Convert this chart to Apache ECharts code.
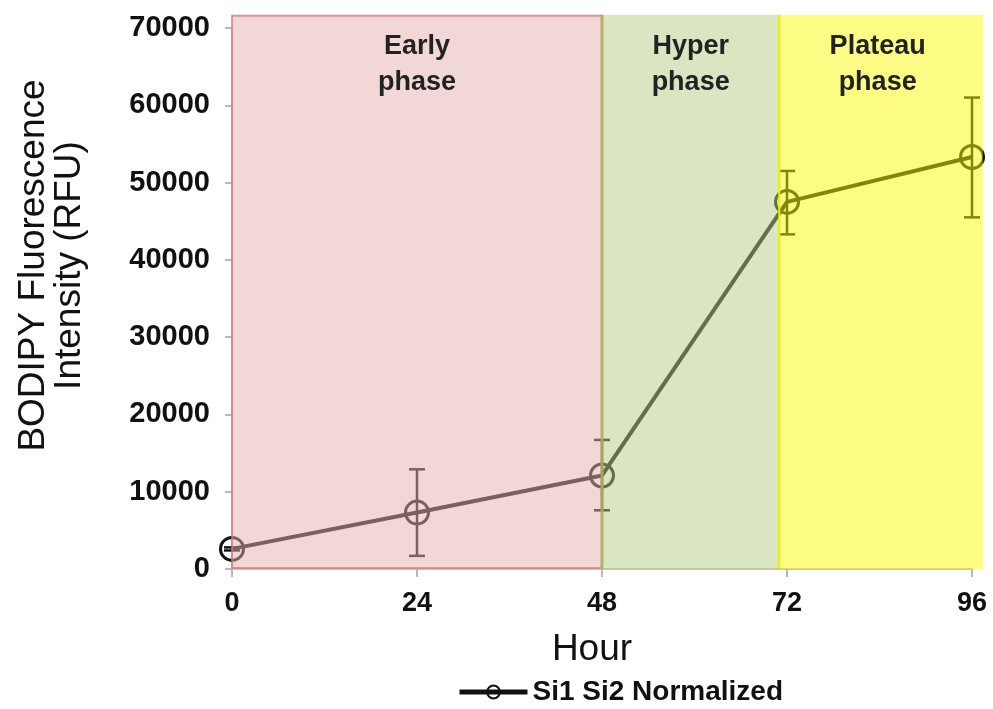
<!DOCTYPE html>
<html>
<head>
<meta charset="utf-8">
<script src="https://cdn.jsdelivr.net/npm/echarts@6/dist/echarts.min.js"></script>
<style>
  html, body { margin: 0; padding: 0; background: #fff; }
  #chart { width: 993px; height: 709px; }
</style>
</head>
<body>
<div id="chart"></div>
<script>
// Sampling times and mean BODIPY fluorescence with error-bar limits
const hours = [0, 24, 48, 72, 96];
const intensity = [2600, 7300, 12100, 47500, 53300];
const errLow = [2400, 1700, 7600, 43300, 45500];
const errHigh = [2800, 12900, 16700, 51500, 61000];

// Growth phases drawn as shaded bands (hour ranges)
const phaseNames = ['Early\nphase', 'Hyper\nphase', 'Plateau\nphase'];
const phaseStart = [0, 48, 71];
const phaseEnd = [48, 71, 97.4];
const phaseTop = 71700;
const phaseFill = ['rgba(229,176,176,0.5)', 'rgba(182,205,134,0.5)', 'rgba(250,249,10,0.5)'];
const phaseEdge = ['rgba(214,120,120,0.7)', 'rgba(175,170,100,0.9)', 'rgba(238,238,0,1)'];

const seriesName = 'Si1 Si2 Normalized';

const chart = echarts.init(document.getElementById('chart'), null, { renderer: 'canvas' });

const lineData = hours.map((h, i) => [h, intensity[i]]);
const errData = hours.map((h, i) => [h, errLow[i], errHigh[i]]);
const phaseData = phaseNames.map((n, i) => [phaseStart[i], phaseEnd[i], phaseTop, i]);

chart.setOption({
  animation: false,
  backgroundColor: '#fff',
  grid: { left: 232, right: 21, top: 28, bottom: 140 },
  legend: {
    data: [seriesName],
    left: 452,
    top: 673,
    itemWidth: 68,
    itemHeight: 16,
    itemGap: 4,
    lineStyle: { width: 5, color: '#111' },
    itemStyle: { color: 'rgba(0,0,0,0)', borderColor: '#111', borderWidth: 2 },
    textStyle: { fontFamily: 'Liberation Sans, Arial', fontSize: 28, fontWeight: 'bold', color: '#111' }
  },
  xAxis: {
    type: 'value',
    min: 0,
    max: 96,
    interval: 24,
    name: 'Hour',
    nameLocation: 'middle',
    nameGap: 62,
    nameTextStyle: { fontFamily: 'Liberation Sans, Arial', fontSize: 37, color: '#111', padding: [0, 20, 0, 0] },
    axisLine: { show: true, lineStyle: { color: '#c4c4c4', width: 2 } },
    axisTick: { show: true, length: 8, lineStyle: { color: '#b8b8b8', width: 2 } },
    axisLabel: { fontFamily: 'Liberation Sans, Arial', fontSize: 27, fontWeight: 'bold', color: '#111', margin: 21 },
    splitLine: { show: false }
  },
  yAxis: {
    type: 'value',
    min: 0,
    max: 70000,
    interval: 10000,
    name: 'BODIPY Fluorescence\nIntensity (RFU)',
    nameLocation: 'middle',
    nameGap: 144,
    nameTextStyle: { fontFamily: 'Liberation Sans, Arial', fontSize: 37, lineHeight: 36, color: '#111', padding: [0, 0, 0, 66] },
    axisLine: { show: true, lineStyle: { color: '#c4c4c4', width: 2 } },
    axisTick: { show: true, length: 7, lineStyle: { color: '#b8b8b8', width: 2 } },
    axisLabel: {
      fontFamily: 'Liberation Sans, Arial', fontSize: 29, fontWeight: 'bold', color: '#111', margin: 22,
      formatter: function (v) { return String(v); }
    },
    splitLine: { show: false }
  },
  series: [
    {
      name: seriesName,
      type: 'line',
      z: 2,
      data: lineData,
      lineStyle: { color: '#111', width: 4 },
      itemStyle: { color: 'rgba(0,0,0,0)', borderColor: '#111', borderWidth: 3 },
      symbol: 'circle',
      symbolSize: 23,
      showSymbol: true,
      clip: false
    },
    {
      name: 'errors',
      type: 'custom',
      z: 2,
      clip: false,
      data: errData,
      renderItem: function (params, api) {
        const x = api.value(0);
        const lo = api.coord([x, api.value(1)]);
        const hi = api.coord([x, api.value(2)]);
        const half = 8;
        const style = { stroke: '#111', lineWidth: 2.5 };
        return {
          type: 'group',
          children: [
            { type: 'line', shape: { x1: lo[0], y1: lo[1], x2: hi[0], y2: hi[1] }, style: style },
            { type: 'line', shape: { x1: lo[0] - half, y1: lo[1], x2: lo[0] + half, y2: lo[1] }, style: style },
            { type: 'line', shape: { x1: hi[0] - half, y1: hi[1], x2: hi[0] + half, y2: hi[1] }, style: style }
          ]
        };
      }
    },
    {
      name: 'phases',
      type: 'custom',
      z: 5,
      clip: false,
      silent: true,
      data: phaseData,
      renderItem: function (params, api) {
        const i = api.value(3);
        const p0 = api.coord([api.value(0), api.value(2)]);
        const p1 = api.coord([api.value(1), 0]);
        const children = [
          {
            type: 'rect',
            shape: { x: p0[0], y: p0[1], width: p1[0] - p0[0], height: p1[1] - p0[1] },
            style: { fill: phaseFill[i] }
          },
          {
            type: 'line',
            shape: { x1: p0[0], y1: p0[1], x2: p0[0], y2: p1[1] },
            style: { stroke: phaseEdge[i], lineWidth: i === 1 ? 3 : 2 }
          }
        ];
        if (i === 0) {
          children.push(
            { type: 'line', shape: { x1: p0[0], y1: p0[1] + 1, x2: p1[0], y2: p0[1] + 1 }, style: { stroke: phaseEdge[0], lineWidth: 2 } },
            { type: 'line', shape: { x1: p0[0], y1: p1[1] - 1, x2: p1[0], y2: p1[1] - 1 }, style: { stroke: phaseEdge[0], lineWidth: 2 } }
          );
        }
        const cx = i === 2 ? (p0[0] + api.coord([96, 0])[0]) / 2 + 2 : (p0[0] + p1[0]) / 2;
        children.push({
          type: 'text',
          x: cx,
          y: p0[1] + 14,
          style: {
            text: phaseNames[i],
            fill: '#222',
            font: 'bold 27px "Liberation Sans", Arial',
            lineHeight: 36,
            align: 'center',
            verticalAlign: 'top'
          }
        });
        return { type: 'group', children: children };
      }
    }
  ]
});
</script>
</body>
</html>
